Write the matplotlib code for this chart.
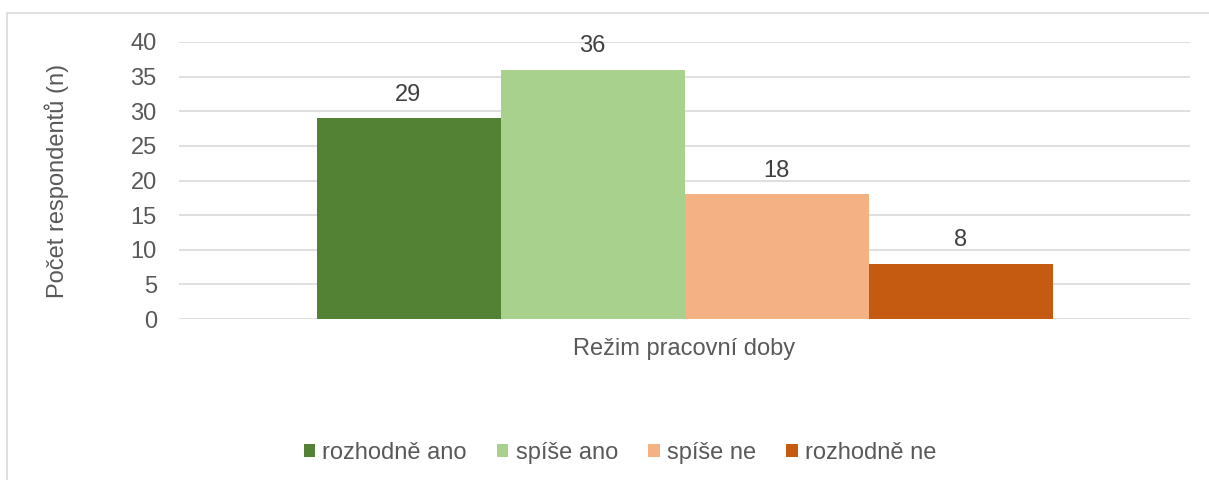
import matplotlib.pyplot as plt
from matplotlib.patches import Rectangle

plt.rcParams['font.family'] = ['Liberation Sans', 'DejaVu Sans']

category = 'Režim pracovní doby'
series = ['rozhodně ano', 'spíše ano', 'spíše ne', 'rozhodně ne']
values = [29, 36, 18, 8]
colors = ['#548235', '#A9D18E', '#F4B183', '#C55A11']
text_color = '#595959'
fs = 17

fig = plt.figure(figsize=(12.09, 4.8), dpi=100)
ax = fig.add_axes([179 / 1209, 1 - 319 / 480, 1011 / 1209, 277 / 480])

w = 184 / 1011
for i, (name, v, c) in enumerate(zip(series, values, colors)):
    x = (i - 1.5) * w
    ax.bar(x, v, width=w, color=c, label=name, zorder=2)
    ax.annotate(str(v), (x, v), xytext=(0, 9), textcoords='offset points',
                ha='center', va='bottom', fontsize=fs, color='#404040')

ax.set_xlim(-0.5, 0.5)
ax.set_ylim(0, 40)
ax.set_yticks(range(0, 41, 5))
ax.set_xticks([0])
ax.set_xticklabels([category])
ax.yaxis.grid(True, color='#d9d9d9', linewidth=1.2, zorder=0)
ax.set_axisbelow(True)
for s in ax.spines.values():
    s.set_visible(False)
ax.tick_params(length=0, labelsize=fs, colors=text_color)
ax.tick_params(axis='y', pad=16)
ax.tick_params(axis='x', pad=14)
ax.set_ylabel('Počet respondentů (n)', fontsize=fs, color=text_color, labelpad=44)

fig.legend(loc='center', bbox_to_anchor=(620 / 1209, 1 - 453 / 480), ncol=4,
           frameon=False, fontsize=fs, handlelength=0.47, handleheight=0.47,
           handletextpad=0.3, columnspacing=1.3, labelcolor=text_color)

fig.patches.append(Rectangle((7 / 1209, -0.01), 1.0, 1 - 13 / 480 + 0.01,
                             transform=fig.transFigure, fill=False,
                             edgecolor='#d9d9d9', linewidth=1.2))

fig.savefig('out.png', dpi=100)
